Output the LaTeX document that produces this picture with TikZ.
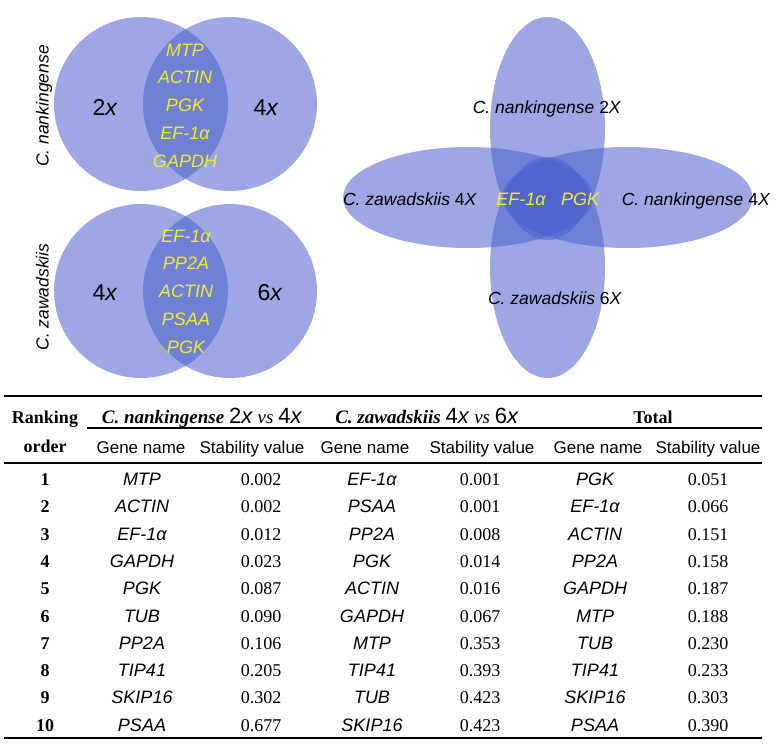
\documentclass[tikz,border=0pt]{standalone}
\usepackage{fontspec}
\setmainfont{Liberation Serif}
\setsansfont{Liberation Sans}
\usetikzlibrary{positioning}
\definecolor{vennblue}{RGB}{75,95,205}
\definecolor{geneyellow}{RGB}{240,240,30}

\begin{document}
\begin{tikzpicture}[
        x=1pt, y=-1pt,
        set/.style={fill=vennblue, fill opacity=0.55},
        txt/.style={inner sep=0pt, text height=13pt, text depth=0pt},
        gene/.style={txt, font=\fontsize{18}{20}\selectfont\sffamily\itshape, text=geneyellow},
        ploidy/.style={txt, text height=16.5pt, font=\fontsize{23}{25}\selectfont\sffamily},
        species/.style={txt, font=\fontsize{17.5}{20}\selectfont\sffamily},
        head/.style={txt, font=\fontsize{17}{20}\selectfont\sffamily},
        rank/.style={txt, font=\fontsize{18}{20}\selectfont\bfseries},
        val/.style={txt, font=\fontsize{18}{20}\selectfont},
        gname/.style={txt, font=\fontsize{18}{20}\selectfont\sffamily\itshape},
        rule/.style={line width=1.5pt}
    ]
    \useasboundingbox (0,0) rectangle (776,745);

    % --- Venn: C. nankingense ---
    \fill[set] (141,104) circle (87);
    \fill[set] (230,104) circle (87);
    \node[species, rotate=90] (sp1) at (42,106) {\itshape C. nankingense};
    \node[ploidy] (n2x) at (105,107) {2\textit{x}};
    \node[ploidy] (n4x) at (266,107) {4\textit{x}};
    \node[gene] (n1) at (185,50) {MTP};
    \node[gene] (n2) at (185,77) {ACTIN};
    \node[gene] (n3) at (185,105) {PGK};
    \node[gene] (n4) at (185,133) {EF-1α};
    \node[gene] (n5) at (185,161) {GAPDH};

    % --- Venn: C. zawadskiis ---
    \fill[set] (141,291) circle (87);
    \fill[set] (230,291) circle (87);
    \node[species, rotate=90] (sp2) at (42,297) {\itshape C. zawadskiis};
    \node[ploidy] (z4x) at (105,292) {4\textit{x}};
    \node[ploidy] (z6x) at (270,292) {6\textit{x}};
    \node[gene] (z1) at (186,236) {EF-1α};
    \node[gene] (z2) at (186,263) {PP2A};
    \node[gene] (z3) at (186,291) {ACTIN};
    \node[gene] (z4) at (186,319) {PSAA};
    \node[gene] (z5) at (186,347) {PGK};

    % --- Venn: four sets ---
    \fill[set] (547.5,128.5) ellipse (57.5 and 111.5);
    \fill[set] (547.5,267.5) ellipse (57.5 and 110.5);
    \fill[set] (468,197.5) ellipse (125 and 50.5);
    \fill[set] (627.5,197.5) ellipse (125 and 50.5);
    \node[species] (top) at (547,107) {\itshape C. nankingense \upshape 2\textit{X}};
    \node[species] (bot) at (555,298) {\itshape C. zawadskiis \upshape 6\textit{X}};
    \node[species] (lft) at (410,199) {\itshape C. zawadskiis \upshape 4\textit{X}};
    \node[species] (rgt) at (696,199) {\itshape C. nankingense \upshape 4\textit{X}};
    \node[gene] (c1) at (521,199) {EF-1α};
    \node[gene] (c2) at (580,199) {PGK};

    % --- Table header ---
    \draw[rule, line width=2pt] (4,396) -- (762,396);
    \draw[rule, line width=1.2pt] (87,428) -- (762,428);
    \draw[rule] (4,463) -- (762,463);
    \draw[rule, line width=2pt] (4,738) -- (762,738);

    \node[rank] (rk) at (45,417) {Ranking};
    \node[rank] (ord) at (45,446) {order};
    \node[val] (grp1) at (202,417) {\fontsize{19}{20}\selectfont\textbf{\textit{C. nankingense}} {\fontsize{22}{24}\selectfont\sffamily 2\textit{x}} \textit{vs} {\fontsize{22}{24}\selectfont\sffamily 4\textit{x}}};
    \node[val] (grp2) at (427,417) {\fontsize{19}{20}\selectfont\textbf{\textit{C. zawadskiis}} {\fontsize{22}{24}\selectfont\sffamily 4\textit{x}} \textit{vs} {\fontsize{22}{24}\selectfont\sffamily 6\textit{x}}};
    \node[val] (grp3) at (653,417) {\textbf{Total}};
    \node[head] (h1) at (141,447) {Gene name};
    \node[head] (h2) at (252,447) {Stability value};
    \node[head] (h3) at (365,447) {Gene name};
    \node[head] (h4) at (482,447) {Stability value};
    \node[head] (h5) at (598,447) {Gene name};
    \node[head] (h6) at (708,447) {Stability value};

    % --- Table body ---
    \foreach \r/\ga/\va/\gb/\vb/\gc/\vc [count=\i] in {
        1/MTP/0.002/EF-1α/0.001/PGK/0.051,
        2/ACTIN/0.002/PSAA/0.001/EF-1α/0.066,
        3/EF-1α/0.012/PP2A/0.008/ACTIN/0.151,
        4/GAPDH/0.023/PGK/0.014/PP2A/0.158,
        5/PGK/0.087/ACTIN/0.016/GAPDH/0.187,
        6/TUB/0.090/GAPDH/0.067/MTP/0.188,
        7/PP2A/0.106/MTP/0.353/TUB/0.230,
        8/TIP41/0.205/TIP41/0.393/TIP41/0.233,
        9/SKIP16/0.302/TUB/0.423/SKIP16/0.303,
        10/PSAA/0.677/SKIP16/0.423/PSAA/0.390} {
        \node[rank]  (r\i)  at (45,{479+27.3*(\i-1)}) {\r};
        \node[gname] (ga\i) at (142,{479+27.3*(\i-1)}) {\ga};
        \node[val]   (va\i) at (261,{479+27.3*(\i-1)}) {\va};
        \node[gname] (gb\i) at (372,{479+27.3*(\i-1)}) {\gb};
        \node[val]   (vb\i) at (480,{479+27.3*(\i-1)}) {\vb};
        \node[gname] (gc\i) at (595,{479+27.3*(\i-1)}) {\gc};
        \node[val]   (vc\i) at (708,{479+27.3*(\i-1)}) {\vc};
    }
\end{tikzpicture}
\end{document}
